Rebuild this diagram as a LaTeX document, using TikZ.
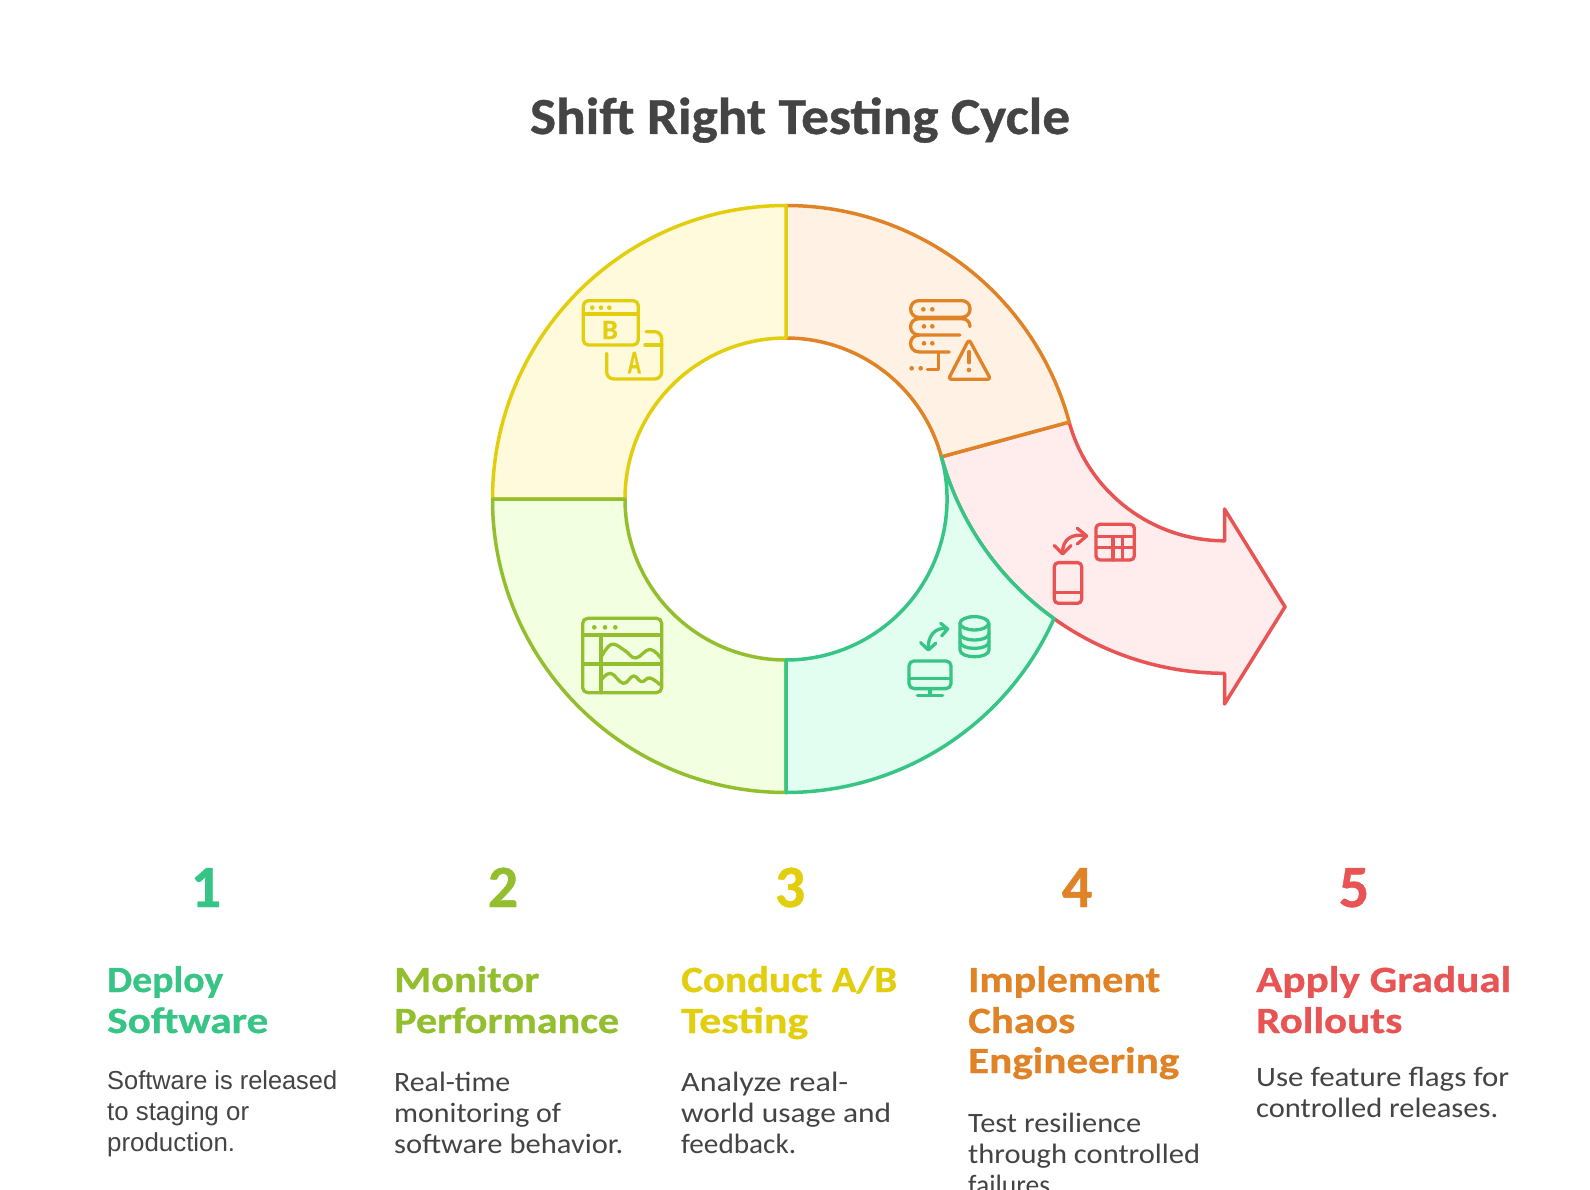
\documentclass[tikz,border=0pt]{standalone}
\usepackage{graphicx}
\usepackage{fontspec}
\setmainfont{Carlito}[BoldFeatures={FakeBold=0.7}]
\newfontfamily\rbfont{Liberation Sans}
\definecolor{cgreen}{HTML}{37C586}
\definecolor{clime}{HTML}{93BF2F}
\definecolor{cyellow}{HTML}{E2CE0C}
\definecolor{corange}{HTML}{E08226}
\definecolor{cred}{HTML}{E85454}
\definecolor{fgreen}{HTML}{E2FEF0}
\definecolor{flime}{HTML}{F2FFE0}
\definecolor{fyellow}{HTML}{FFFADC}
\definecolor{forange}{HTML}{FFF2E4}
\definecolor{fred}{HTML}{FFECEC}
\definecolor{ctext}{HTML}{444444}
\tikzset{
  seg/.style={line width=3.5pt,line join=round},
  ico/.style={line width=3.3pt,line cap=round,line join=round},
  lab/.style={inner sep=0pt,anchor=base west},
  titletext/.style={inner sep=0pt,anchor=base,text=ctext,font=\fontsize{52}{52}\selectfont\bfseries},
  numtext/.style={inner sep=0pt,anchor=base,font=\fontsize{60}{60}\selectfont\bfseries},
  headtext/.style={lab,font=\fontsize{37}{37}\selectfont\bfseries},
  desctext/.style={lab,text=ctext,font=\fontsize{28}{28}\selectfont},
  robotext/.style={lab,text=ctext,font=\fontsize{26}{26}\selectfont\rbfont},
  icoletter/.style={inner sep=0pt,font=\bfseries},
}
\newcommand{\fitw}[2]{\resizebox{#1pt}{\height}{#2}}
\newcommand{\tl}[6]{\node[#1,#6] (#2) at (#3) {\fitw{#4}{#5}};}
\def\Rb{293.5}
\def\Ri{161}
\begin{document}
\begin{tikzpicture}[x=1pt,y=-1pt]
\path[use as bounding box,fill=white] (0,0) rectangle (1590,1190);
\clip (0,0) rectangle (1590,1190);
\coordinate (C) at (786,499);
\coordinate (D) at (1224.5,379.8);
% red arrow
\draw[seg,draw=cred,fill=fred] ([shift={(164.8:\Rb)}]D) arc[start angle=164.8,end angle=90,radius=\Rb]
  -- (1224.5,704) -- (1285,606.8) -- (1224.5,509) -- ([shift={(90:\Ri)}]D)
  arc[start angle=90,end angle=164.8,radius=\Ri] -- cycle;
% orange
\draw[seg,draw=corange,fill=forange] ([shift={(-90:\Rb)}]C) arc[start angle=-90,end angle=-15.2,radius=\Rb]
  -- ([shift={(-15.2:\Ri)}]C) arc[start angle=-15.2,end angle=-90,radius=\Ri] -- cycle;
% yellow
\draw[seg,draw=cyellow,fill=fyellow] ([shift={(-180:\Rb)}]C) arc[start angle=-180,end angle=-90,radius=\Rb]
  -- ([shift={(-90:\Ri)}]C) arc[start angle=-90,end angle=-180,radius=\Ri] -- cycle;
% lime
\draw[seg,draw=clime,fill=flime] ([shift={(180:\Rb)}]C) arc[start angle=180,end angle=90,radius=\Rb]
  -- ([shift={(90:\Ri)}]C) arc[start angle=90,end angle=180,radius=\Ri] -- cycle;
% green
\draw[seg,draw=cgreen,fill=fgreen] ([shift={(90:\Rb)}]C) arc[start angle=90,end angle=24.05,radius=\Rb]
  arc[start angle=125.55,end angle=164.8,radius=\Rb]
  arc[start angle=-15.2,end angle=90,radius=\Ri] -- cycle;

% orange icon
\begin{scope}[shift={(870,280)},x=0.3333pt,y=-0.3333pt]
\begin{scope}[ico,draw=corange]
\draw[rounded corners=8pt] (122,62) rectangle (300,112);
\draw (300,140) .. controls (300,125) and (290,116) .. (275,116) -- (148,116) .. controls (113,116) and (113,165) .. (148,165) -- (270,165);
\draw (148,165) .. controls (113,165) and (113,216) .. (148,216) -- (238,216);
\draw (205,216) -- (205,268) -- (172,268);
\draw[rounded corners=3pt] (297,178) -- (362,298) -- (235,298) -- cycle;
\draw (297,215) -- (297,248);
\end{scope}
\foreach \p in {(160,88),(187,88),(162,139),(187,139),(162,190),(187,190),(125,265),(152,265),(297,270)}
  \fill[corange] \p circle[radius=7];
% red icon
\begin{scope}[ico,draw=cred]
\draw[rounded corners=4pt] (678,733) rectangle (793,840);
\draw (678,770) -- (793,770) (678,803) -- (793,803) (729,770) -- (729,840) (758,770) -- (758,840);
\draw[rounded corners=4pt] (553,848) rectangle (635,970);
\draw (553,938) -- (635,938);
\draw (622,745) -- (650,768) -- (622,792);
\draw (648,768) .. controls (605,758) and (576,780) .. (578,820);
\draw (553,797) -- (578,822) -- (603,797);
\end{scope}
% green icon
\begin{scope}[ico,draw=cgreen]
\draw (313,1030) ellipse[x radius=43,y radius=20];
\draw (270,1030) -- (270,1110) .. controls (270,1137) and (357,1137) .. (357,1110) -- (357,1030);
\draw (270,1060) .. controls (270,1087) and (357,1087) .. (357,1060);
\draw (270,1085) .. controls (270,1112) and (357,1112) .. (357,1085);
\draw (212,1030) -- (233,1047) -- (215,1068);
\draw (231,1046) .. controls (195,1040) and (172,1070) .. (175,1108);
\draw (152,1088) -- (175,1110) -- (197,1090);
\draw[rounded corners=5pt] (117,1143) rectangle (243,1226);
\draw (117,1195) -- (243,1195);
\draw (180,1226) -- (180,1246) (142,1246) -- (218,1246);
\end{scope}
\end{scope}
% yellow icon
\begin{scope}[shift={(560,280)},x=0.3333pt,y=-0.3333pt]
\begin{scope}[ico,draw=cyellow]
\draw[rounded corners=5pt] (70,62) rectangle (235,195);
\draw (70,102) -- (235,102);
\draw[rounded corners=7pt] (258,155) -- (305,155) -- (305,297) -- (140,297) -- (140,220);
\draw (255,195) -- (305,195);
\end{scope}
\foreach \p in {(97,83),(123,83),(148,83)} \fill[cyellow] \p circle[radius=7];
\node[icoletter,text=cyellow,font=\fontsize{28}{28}\selectfont\bfseries] (iconB) at (150,150) {B};
\node[icoletter,text=cyellow,font=\fontsize{33}{33}\selectfont\bfseries] (iconA) at (223,248) {\resizebox{13pt}{\height}{A}};
\end{scope}
% lime icon
\begin{scope}[shift={(570,600)},x=0.3333pt,y=-0.3333pt]
\begin{scope}[ico,draw=clime]
\draw[rounded corners=5pt] (38,55) rectangle (275,278);
\draw (38,105) -- (275,105) (38,192) -- (275,192) (93,105) -- (93,278);
\draw plot[smooth,tension=0.7] coordinates {(93,172) (125,133) (165,152) (197,174) (240,148) (273,175)};
\draw plot[smooth,tension=0.7] coordinates {(93,240) (122,220) (160,250) (190,228) (215,245) (240,234) (273,256)};
\end{scope}
\foreach \p in {(73,82),(105,82),(136,82)} \fill[clime] \p circle[radius=7];
\end{scope}

% title
\node[titletext] (title) at (800,134) {\fitw{540}{Shift Right Testing Cycle}};
% numbers
\node[numtext,text=cgreen] (n1) at (206,907) {1};
\node[numtext,text=clime] (n2) at (503,907) {2};
\node[numtext,text=cyellow] (n3) at (790,907) {3};
\node[numtext,text=corange] (n4) at (1077,907) {4};
\node[numtext,text=cred] (n5) at (1354,907) {5};
% headings
\tl{headtext}{h1a}{107,992}{116}{Deploy}{text=cgreen}
\tl{headtext}{h1b}{107,1033}{161}{Software}{text=cgreen}
\tl{headtext}{h2a}{394,992}{145}{Monitor}{text=clime}
\tl{headtext}{h2b}{394,1033}{225}{Performance}{text=clime}
\tl{headtext}{h3a}{681,992}{216}{Conduct A/B}{text=cyellow}
\tl{headtext}{h3b}{681,1033}{127}{Testing}{text=cyellow}
\tl{headtext}{h4a}{968,992}{192}{Implement}{text=corange}
\tl{headtext}{h4b}{968,1033}{107}{Chaos}{text=corange}
\tl{headtext}{h4c}{968,1073}{211}{Engineering}{text=corange}
\tl{headtext}{h5a}{1256,992}{255}{Apply Gradual}{text=cred}
\tl{headtext}{h5b}{1256,1033}{146}{Rollouts}{text=cred}
% descriptions
\tl{robotext}{d1a}{107,1089}{230}{Software is released}{}
\tl{robotext}{d1b}{107,1120}{142}{to staging or}{}
\tl{robotext}{d1c}{107,1151}{128}{production.}{}
\tl{desctext}{d2a}{394,1091}{116}{Real-time}{}
\tl{desctext}{d2b}{394,1122}{167}{monitoring of}{}
\tl{desctext}{d2c}{394,1153}{229}{software behavior.}{}
\tl{desctext}{d3a}{681,1091}{167}{Analyze real-}{}
\tl{desctext}{d3b}{681,1122}{210}{world usage and}{}
\tl{desctext}{d3c}{681,1153}{115}{feedback.}{}
\tl{desctext}{d4a}{968,1132}{173}{Test resilience}{}
\tl{desctext}{d4b}{968,1163}{232}{through controlled}{}
\tl{desctext}{d4c}{968,1194}{89}{failures.}{}
\tl{desctext}{d5a}{1256,1086}{253}{Use feature flags for}{}
\tl{desctext}{d5b}{1256,1117}{242}{controlled releases.}{}
\end{tikzpicture}
\end{document}
